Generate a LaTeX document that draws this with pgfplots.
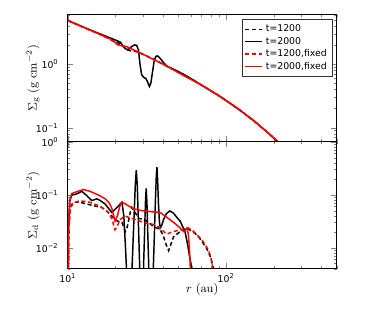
\documentclass[border=0pt]{standalone}
\usepackage[no-math]{fontspec}
\setmainfont{DejaVu Sans}
\usepackage{pgfplots}
\pgfplotsset{compat=1.18}
\begin{document}
\begin{tikzpicture}
\path[use as bounding box] (-50.8pt,-124.7pt) rectangle (229.7pt,106.3pt);
\begin{axis}[name=top, at={(0,0)}, anchor=south west,
  width=201.75pt, height=95.25pt, scale only axis,
  xmode=log, ymode=log, xmin=10, xmax=500,
  tick align=inside, tick pos=both,
  major tick length=4pt, minor tick length=2pt,
  axis line style={line width=0.6pt},
  xtick={10,100},
  minor xtick={20,30,40,50,60,70,80,90,200,300,400,500},
  tick label style={font=\fontsize{7}{8}\selectfont},
  yticklabel style={xshift=-3.5pt},
  label style={font=\fontsize{9}{10}\selectfont},
  ylabel style={at={(axis description cs:-0.129,0.5)}, anchor=center},
  ymin=0.06, ymax=6,
  xticklabels={},
  ytick={0.1,1}, yticklabels={10\textsuperscript{−1},10\textsuperscript{0}},
  minor ytick={0.06,0.07,0.08,0.09,0.2,0.3,0.4,0.5,0.6,0.7,0.8,0.9,2,3,4,5,6},
  ylabel={$\Sigma_{\rm g}\ (\mathrm{g\ cm^{-2}})$},
  legend image code/.code={\draw[#1] (0cm,0cm) -- (0.45cm,0cm);},
  legend style={at={(rel axis cs:0.984,0.965)}, anchor=north east,
    font=\fontsize{7}{8}\selectfont, draw=black!80,
    row sep=-1.4pt, inner sep=2pt, cells={anchor=west}},
]
\addplot[black, line width=1.1pt, dash pattern=on 3pt off 2pt] coordinates {(10,4.87)(12,4.01)(14,3.40)(16,2.97)(18,2.62)(20,2.34)(22,1.98)(23.5,1.70)(25,1.62)(27,1.58)(29,1.48)(32,1.32)(35,1.179)(40,0.998)(45,0.862)(50,0.757)(55,0.668)(60,0.588)(70,0.467)(80,0.382)(90,0.319)(100,0.2675)(120,0.195)(150,0.128)(180,0.0872)(200,0.0687)(220,0.0546)(250,0.0394)};
\addlegendentry{t=1200}
\addplot[black, line width=1.1pt] coordinates {(10,4.87)(12,4.01)(14,3.41)(16,3.0)(18,2.66)(20,2.40)(21.5,2.22)(22.3,1.95)(23,1.76)(23.8,1.70)(24.6,1.76)(25.5,1.92)(26.5,2.01)(27.3,1.97)(28.0,1.65)(28.6,1.0)(29.3,0.68)(30.2,0.62)(31.2,0.59)(32.0,0.52)(32.8,0.445)(33.5,0.50)(34.3,0.75)(35.2,1.15)(36.0,1.32)(36.8,1.35)(38,1.27)(40,1.08)(42.3,0.925)(45,0.865)(50,0.765)(55,0.672)(60,0.592)(65,0.525)(70,0.467)(80,0.382)(90,0.319)(100,0.2675)(120,0.195)(150,0.128)(180,0.0872)(200,0.0687)(220,0.0546)(250,0.0394)};
\addlegendentry{t=2000}
\addplot[red, line width=1.1pt, dash pattern=on 3pt off 2pt] coordinates {(10,4.87)(11,4.41)(12,4.01)(13,3.68)(14,3.40)(15.5,3.04)(17,2.72)(18.5,2.46)(19.5,2.25)(20.5,2.05)(21.5,1.96)(22.5,1.92)(23.6,1.88)(25,1.764)(27.5,1.57)(30,1.422)(35,1.179)(40,0.998)(45,0.855)(50,0.738)(55,0.648)(60,0.577)(65,0.518)(70,0.467)(80,0.382)(90,0.319)(100,0.2675)(120,0.195)(150,0.128)(180,0.0872)(200,0.0687)(220,0.0546)(250,0.0394)};
\addlegendentry{t=1200,fixed}
\addplot[red, line width=1.1pt] coordinates {(10,4.87)(11,4.41)(12,4.01)(13,3.68)(14,3.40)(15.5,3.05)(17,2.74)(18.5,2.50)(19.5,2.30)(20.5,2.07)(21.5,1.97)(22.5,1.93)(23.6,1.886)(25,1.764)(27.5,1.57)(30,1.422)(35,1.179)(40,0.998)(45,0.855)(50,0.735)(55,0.645)(60,0.575)(65,0.518)(70,0.467)(80,0.382)(90,0.319)(100,0.2675)(120,0.195)(150,0.128)(180,0.0872)(200,0.0687)(220,0.0546)(250,0.0394)};
\addlegendentry{t=2000,fixed}
\end{axis}
\begin{axis}[name=bot, at={(top.south west)}, anchor=north west,
  width=201.75pt, height=95.25pt, scale only axis,
  xmode=log, ymode=log, xmin=10, xmax=500,
  tick align=inside, tick pos=both,
  major tick length=4pt, minor tick length=2pt,
  axis line style={line width=0.6pt},
  xtick={10,100},
  minor xtick={20,30,40,50,60,70,80,90,200,300,400,500},
  tick label style={font=\fontsize{7}{8}\selectfont},
  yticklabel style={xshift=-3.5pt},
  label style={font=\fontsize{9}{10}\selectfont},
  ylabel style={at={(axis description cs:-0.129,0.5)}, anchor=center},
  ymin=0.004, ymax=1,
  xticklabels={10\textsuperscript{1},10\textsuperscript{2}},
  ytick={0.01,0.1,1}, yticklabels={10\textsuperscript{−2},10\textsuperscript{−1},10\textsuperscript{0}},
  minor ytick={0.004,0.005,0.006,0.007,0.008,0.009,0.02,0.03,0.04,0.05,0.06,0.07,0.08,0.09,0.2,0.3,0.4,0.5,0.6,0.7,0.8,0.9},
  ylabel={$\Sigma_{\rm d}\ (\mathrm{g\ cm^{-2}})$},
  xlabel={$r\ (\mathrm{au})$},
  xlabel style={at={(axis description cs:0.5,-0.162)}, anchor=center},
]
\addplot[black, line width=1.1pt, dash pattern=on 3pt off 2pt] coordinates {(10.0,1e-4)(10.1,0.01)(10.25,0.04)(10.5,0.062)(10.85,0.072)(11.97,0.072)(13.2,0.0668)(14.5,0.062)(16.4,0.0575)(17.5,0.05)(19.0,0.0395)(20.5,0.032)(22.0,0.03)(23.1,0.0202)(23.8,0.025)(24.8,0.046)(25.4,0.0575)(26.2,0.05)(28,0.036)(31,0.033)(34.8,0.0252)(38.4,0.022)(40.3,0.0161)(41.8,0.0115)(43.4,0.0088)(45,0.012)(46.6,0.0161)(51.3,0.0202)(56.6,0.0235)(60,0.021)(65.5,0.0174)(70,0.0135)(75.5,0.0096)(80,0.0065)(83.4,0.004)(86,0.002)(88,1e-4)};
\addplot[black, line width=1.1pt] coordinates {(10.0,1e-4)(10.1,0.02)(10.3,0.075)(10.6,0.1)(11.0,0.1)(11.6,0.106)(12.26,0.116)(13.0,0.1)(14.2,0.0774)(15.25,0.0836)(16.0,0.078)(17.2,0.067)(19.0,0.046)(20.5,0.058)(22.0,0.072)(22.6,0.04)(23.1,0.012)(23.6,0.003)(24.2,1e-4)(24.8,1e-4)(25.2,0.002)(25.7,0.008)(26.2,0.035)(26.7,0.15)(27.1,0.29)(27.5,0.15)(27.9,0.035)(28.3,0.008)(28.7,0.002)(29.3,1e-4)(29.6,1e-4)(30.0,0.003)(30.5,0.015)(30.95,0.07)(31.3,0.131)(31.65,0.07)(32.1,0.015)(32.6,0.003)(33.2,1e-4)(33.8,1e-4)(34.6,0.003)(35.2,0.015)(35.8,0.08)(36.25,0.22)(36.6,0.331)(36.95,0.2)(37.4,0.07)(37.9,0.032)(38.4,0.0235)(39.2,0.026)(40.3,0.034)(42,0.044)(44.1,0.0494)(46.5,0.045)(49,0.037)(51.3,0.0316)(53.2,0.025)(55,0.0202)(57,0.012)(59,0.0065)(61,0.004)(62,0.002)(63,1e-4)};
\addplot[red, line width=1.1pt, dash pattern=on 3pt off 2pt] coordinates {(10.0,1e-4)(10.15,0.02)(10.4,0.055)(10.85,0.07)(11.97,0.077)(13.8,0.072)(15.5,0.063)(16.8,0.055)(18.1,0.046)(19.0,0.035)(19.9,0.0217)(20.5,0.025)(21.4,0.034)(23.1,0.0395)(24.5,0.037)(26.6,0.034)(30.8,0.0294)(35.6,0.027)(38.4,0.0235)(40.3,0.0202)(42.4,0.018)(44,0.019)(46.6,0.0202)(51.3,0.0215)(56,0.0225)(58,0.0235)(62,0.0205)(68.8,0.015)(72,0.0128)(77.7,0.0088)(80.5,0.0062)(82.5,0.004)(85,0.002)(87,1e-4)};
\addplot[red, line width=1.1pt] coordinates {(10.0,1e-4)(10.12,0.03)(10.3,0.08)(10.6,0.105)(11.5,0.115)(12.56,0.125)(13.8,0.116)(14.9,0.105)(16.0,0.095)(17.2,0.084)(18.3,0.07)(19.0,0.055)(19.9,0.0316)(20.6,0.04)(21.3,0.06)(22,0.072)(23.1,0.067)(24.5,0.06)(26.6,0.0533)(30.1,0.0494)(35.6,0.047)(38.4,0.046)(41,0.04)(44.1,0.034)(48,0.028)(51.3,0.0235)(53.9,0.0202)(55.5,0.022)(56.6,0.0235)(57.8,0.018)(58.9,0.008)(59.5,0.004)(60.5,1e-4)};
\end{axis}
\end{tikzpicture}
\end{document}
